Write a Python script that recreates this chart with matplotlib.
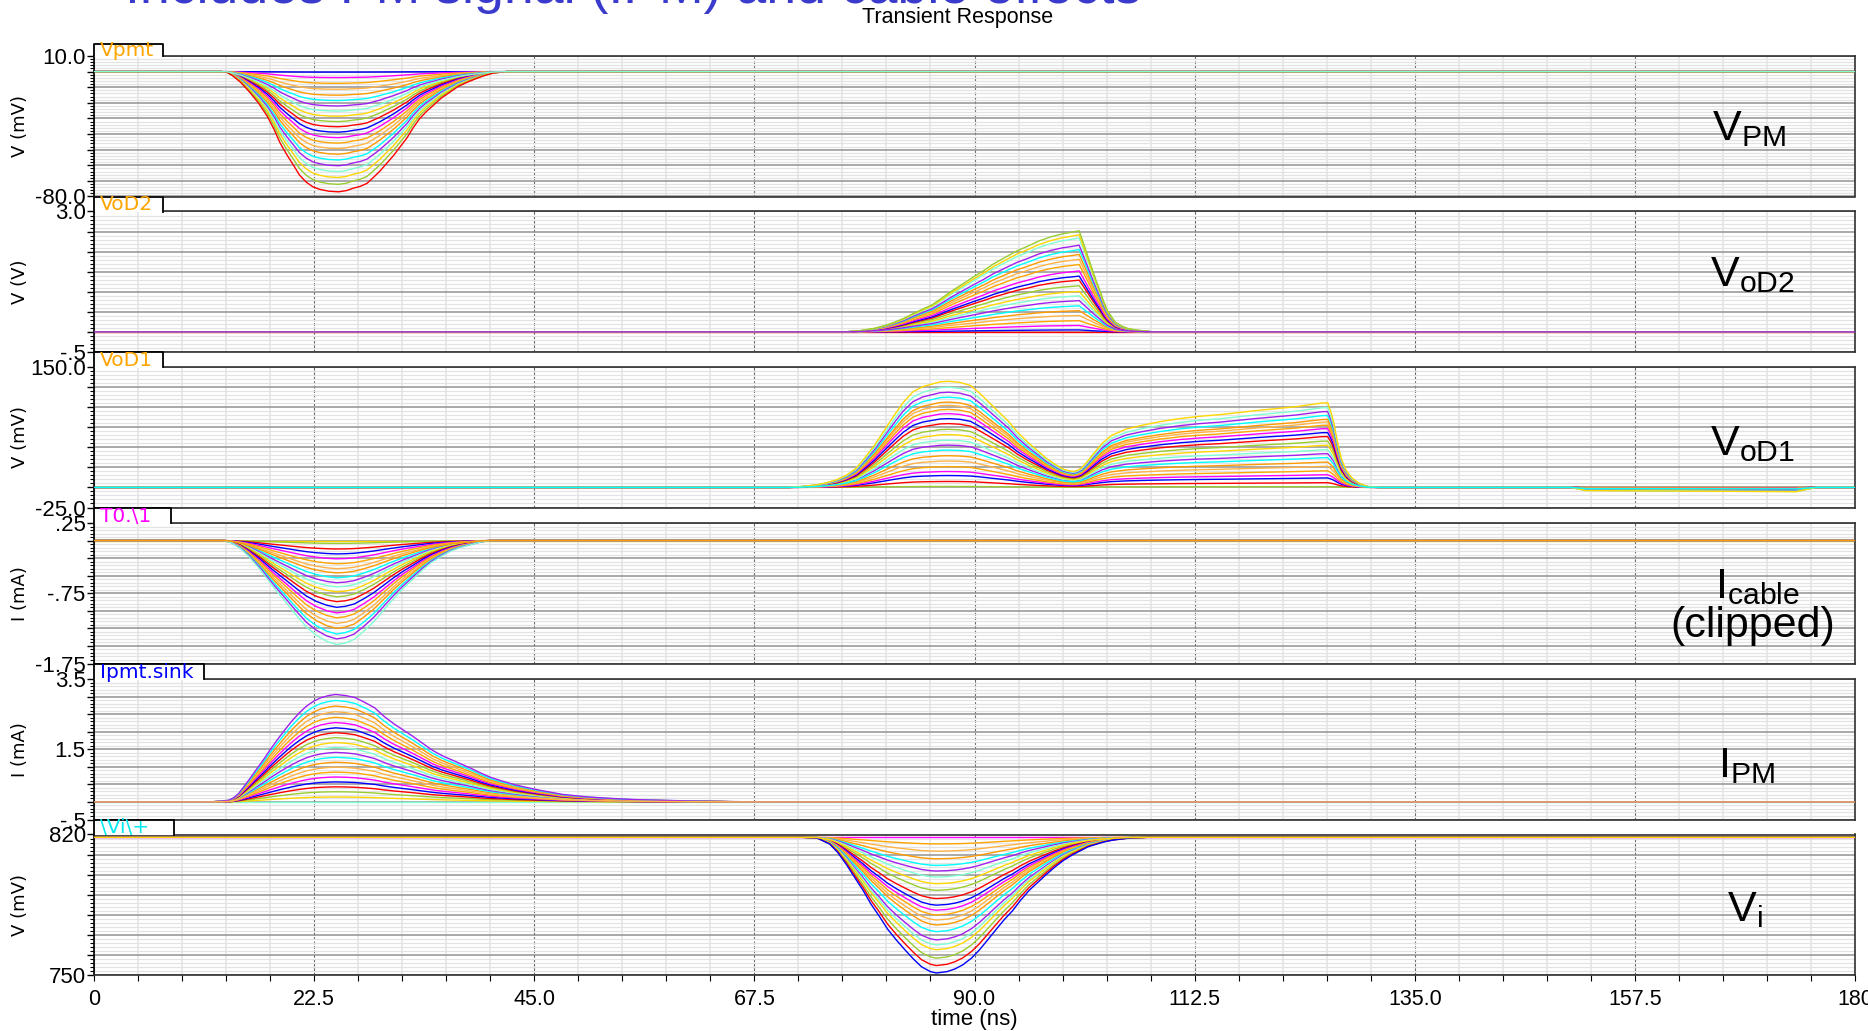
import numpy as np
import matplotlib
matplotlib.use('Agg')
import matplotlib.pyplot as plt
from matplotlib.ticker import FixedLocator, MultipleLocator, FuncFormatter
from matplotlib.patches import Rectangle
from matplotlib.lines import Line2D

plt.rcParams['mathtext.fontset'] = 'custom'
plt.rcParams['mathtext.rm'] = 'Liberation Sans'
plt.rcParams['mathtext.it'] = 'Liberation Sans:italic'
plt.rcParams['mathtext.bf'] = 'Liberation Sans:bold'

TICKFONT = ['Liberation Sans', 'DejaVu Sans']

# ---------------- data ----------------
palette = ['#ff0000', '#0000ff', '#ff00ff', '#ffa500', '#ffb347', '#ff9a00',
           '#00ffff', '#a020f0', '#7fffd4', '#ffd700', '#9acd32']

time_ticks = [0, 22.5, 45, 67.5, 90, 112.5, 135, 157.5, 180]
time_tick_labels = ['0', '22.5', '45.0', '67.5', '90.0', '112.5', '135.0', '157.5', '180']

# Vpmt (mV): pulse shape of the largest trace (fraction of peak) and per-trace peaks
vpmt_time = [0, 13.0, 13.6, 14.2, 15.0, 15.9, 16.8, 17.7, 18.4, 19.0, 19.7, 20.4, 21.0, 21.7,
             22.4, 23.1, 24.0, 25.0, 25.8, 26.5, 27.2, 27.9, 28.5, 29.2, 29.9, 30.6, 31.3,
             32.0, 32.6, 33.3, 34.0, 34.7, 35.5, 36.4, 37.2, 38.1, 39.0, 39.8, 40.8, 42.2, 180]
vpmt_shape = [0, 0, 0.006, 0.036, 0.09, 0.17, 0.26, 0.37, 0.48, 0.59, 0.69, 0.78, 0.86, 0.92,
              0.96, 0.98, 0.995, 1.0, 0.99, 0.97, 0.955, 0.93, 0.885, 0.83, 0.765, 0.70, 0.625,
              0.55, 0.47, 0.39, 0.33, 0.28, 0.22, 0.17, 0.125, 0.09, 0.06, 0.036, 0.012, 0, 0]
vpmt_peak = [-0.3, -3.8, -7.5, -11.3, -15.1, -18.5, -22.0, -25.3, -28.6, -32.0, -35.3,
             -38.8, -42.3, -45.8, -49.3, -52.9, -56.6, -60.3, -64.0, -67.8, -72.2, -77.0]
vpmt_base = 0.0

# VoD2 (V)
vod2_time = [0, 76.7, 78.3, 79.8, 80.8, 81.8, 82.8, 83.7, 84.7, 85.7, 86.6, 87.6, 88.8, 90.0,
             91.0, 91.9, 93.1, 94.3, 95.5, 96.6, 97.8, 99.0, 99.9, 100.7, 101.3, 101.7, 102.1,
             102.5, 102.9, 103.2, 103.6, 104.0, 104.4, 105.0, 105.6, 106.5, 107.5, 108.3, 180]
vod2_shape = [0, 0, 0.012, 0.036, 0.062, 0.095, 0.135, 0.18, 0.225, 0.27, 0.33, 0.40, 0.475,
              0.55, 0.61, 0.67, 0.735, 0.80, 0.85, 0.90, 0.94, 0.97, 0.985, 1.0, 0.83, 0.715,
              0.60, 0.49, 0.39, 0.30, 0.21, 0.15, 0.095, 0.06, 0.036, 0.018, 0.008, 0, 0]
vod2_peak = [0.0, 0.05, 0.16, 0.28, 0.41, 0.53, 0.65, 0.78, 0.90, 1.01, 1.15, 1.29, 1.39,
             1.52, 1.68, 1.81, 1.93, 2.05, 2.16, 2.34, 2.42, 2.52]
vod2_base = 0.0

# VoD1 (mV)
vod1_time = [0, 71.0, 72.5, 73.9, 74.9, 75.9, 76.9, 77.9, 78.8, 79.8, 80.8, 81.8, 82.7, 83.7,
             84.7, 85.7, 86.5, 87.4, 88.5, 89.6, 90.5, 91.5, 92.5, 93.5, 94.4, 95.4, 96.4,
             97.4, 98.2, 98.9, 99.5, 100.1, 100.5, 100.9, 101.5, 102.1, 103.0, 104.0, 105.5,
             107.1, 109.0, 111.1, 113.0, 115.0, 118.9, 122.8, 125.5, 126.1, 126.4, 126.7,
             127.1, 127.5, 128.0, 128.6, 129.4, 130.2, 131.3, 151.0, 152.5, 174.0, 176.0, 180]
vod1_shape = [0, 0, 0.01, 0.025, 0.045, 0.072, 0.115, 0.18, 0.28, 0.40, 0.54, 0.68, 0.80, 0.90,
              0.95, 0.975, 0.995, 1.0, 0.99, 0.96, 0.89, 0.80, 0.71, 0.62, 0.52, 0.43, 0.35,
              0.27, 0.22, 0.18, 0.16, 0.15, 0.16, 0.18, 0.24, 0.31, 0.41, 0.49, 0.55,
              0.585, 0.62, 0.65, 0.67, 0.685, 0.725, 0.76, 0.795, 0.797, 0.72, 0.62,
              0.43, 0.27, 0.16, 0.087, 0.035, 0.009, 0, 0, -0.03, -0.04, 0, 0]
vod1_peak = [1.2, 7.4, 14.8, 19.8, 25.9, 32.9, 39.5, 46.5, 52.7, 58.8, 65.8, 72.4, 79.5,
             85.7, 91.9, 97.2, 102.2, 106.3, 112.4, 118.6, 124.8, 132.2]
vod1_base = 0.0

# I cable (mA)
icab_time = [0, 13.3, 14.0, 14.9, 15.8, 17.0, 18.2, 19.5, 20.7, 21.7, 22.7, 23.8, 24.8, 25.7,
             26.6, 27.6, 28.6, 29.6, 30.6, 31.6, 32.6, 33.6, 34.5, 35.5, 36.5, 37.5, 38.5,
             39.5, 40.5, 180]
icab_shape = [0, 0, 0.02, 0.07, 0.15, 0.28, 0.43, 0.58, 0.72, 0.83, 0.91, 0.97, 1.0, 0.985,
              0.95, 0.87, 0.78, 0.67, 0.56, 0.46, 0.37, 0.28, 0.21, 0.15, 0.10, 0.065, 0.04,
              0.015, 0, 0]
icab_peak = [0.0, -0.04, -0.12, -0.19, -0.26, -0.33, -0.40, -0.46, -0.53, -0.60, -0.66,
             -0.73, -0.80, -0.87, -0.95, -1.03, -1.10, -1.18, -1.25, -1.33, -1.40, -1.48]
icab_base = 0.0

# I PM (mA)
ipm_time = [0, 11.5, 12.3, 13.0, 13.8, 14.3, 14.8, 15.3, 15.8, 16.5, 17.3, 18.0, 18.75, 19.5,
            20.2, 21.0, 21.7, 22.5, 23.2, 24.0, 24.7, 25.7, 26.7, 27.7, 28.7, 29.6, 30.6,
            31.6, 32.6, 33.6, 34.6, 35.6, 36.6, 37.6, 38.6, 39.5, 40.5, 41.7, 43.0, 44.2,
            45.5, 47.9, 50.4, 52.8, 55.3, 60.3, 65.2, 70.2, 180]
ipm_shape = [0, 0, 0.003, 0.008, 0.016, 0.04, 0.08, 0.14, 0.2, 0.29, 0.39, 0.485, 0.58, 0.67,
             0.75, 0.83, 0.89, 0.94, 0.97, 0.99, 1.0, 0.99, 0.97, 0.925, 0.875, 0.80, 0.73,
             0.67, 0.61, 0.545, 0.48, 0.43, 0.39, 0.35, 0.31, 0.27, 0.23, 0.195, 0.16, 0.135,
             0.11, 0.07, 0.047, 0.033, 0.022, 0.01, 0.003, 0, 0]
ipm_peak = [0.0, 0.14, 0.29, 0.43, 0.57, 0.71, 0.85, 0.99, 1.13, 1.27, 1.41, 1.55, 1.69,
            1.83, 1.97, 2.11, 2.26, 2.41, 2.57, 2.73, 2.89, 3.06]
ipm_base = 0.0

# Vi (mV)
vi_time = [0, 72.5, 73.9, 75.2, 76.0, 76.9, 77.7, 78.6, 79.4, 80.3, 81.1, 82.0, 82.9, 83.8,
           84.6, 85.5, 86.1, 87.2, 88.0, 88.8, 89.7, 90.5, 91.3, 92.2, 93.0, 93.9, 94.7,
           95.6, 96.5, 97.4, 98.2, 99.1, 100.0, 100.8, 101.6, 102.5, 103.3, 104.2, 105.9,
           107.6, 180]
vi_shape = [0, 0, 0.005, 0.05, 0.11, 0.2, 0.29, 0.39, 0.49, 0.585, 0.675, 0.756, 0.83, 0.9,
            0.955, 0.99, 1.0, 0.99, 0.97, 0.94, 0.89, 0.83, 0.76, 0.68, 0.61, 0.54, 0.465,
            0.39, 0.33, 0.27, 0.22, 0.17, 0.13, 0.10, 0.07, 0.05, 0.033, 0.02, 0.005, 0, 0]
vi_peak = [818.6, 815.3, 811.7, 807.9, 804.6, 801.8, 798.8, 795.5, 792.2, 788.1, 784.8,
           782.3, 779.9, 777.4, 774.9, 771.6, 767.5, 765.0, 762.6, 758.4, 754.7, 751.0]
vi_base = 818.6

panel_names = [r'$\mathrm{V_{PM}}$', r'$\mathrm{V_{oD2}}$', r'$\mathrm{V_{oD1}}$',
               r'$\mathrm{I_{cable}}$', r'$\mathrm{I_{PM}}$', r'$\mathrm{V_{i}}$']
tab_names = ['Vpmt', 'VoD2', 'VoD1', 'T0.\\1', 'Ipmt.sink', '\\Vi\\+']
tab_colors = ['#ffa500', '#ffa500', '#ffa500', '#ff00ff', '#0000ff', '#00e8f0']
y_units = ['V (mV)', 'V (V)', 'V (mV)', 'I (mA)', 'I (mA)', 'V (mV)']
y_limits = [(-80, 10), (-0.5, 3.0), (-25, 150), (-1.75, 0.25), (-0.5, 3.5), (750, 820)]
y_steps = [10, 0.5, 25, 0.25, 0.5, 10]
y_tick_labels = [{10: '10.0', -80: '-80.0'},
                 {3.0: '3.0', -0.5: '-.5'},
                 {150: '150.0', -25: '-25.0'},
                 {0.25: '.25', -0.75: '-.75', -1.75: '-1.75'},
                 {3.5: '3.5', 1.5: '1.5', -0.5: '-.5'},
                 {820: '820', 750: '750'}]

# ---------------- layout ----------------
W, H, DPI = 1868, 1031, 100
fig = plt.figure(figsize=(W / DPI, H / DPI), dpi=DPI)
fig.patch.set_facecolor('white')


def fx(px):
    return px / W


def fy(py):
    return 1 - py / H


AX_L, AX_R, AX_H = 94, 1855, 140.5
ax_tops = [56, 211.5, 367, 523, 679, 834.5]
tab_tops = [44, 196.5, 352, 508, 664, 819.5]
tab_rights = [163, 163, 163, 171, 204, 174]
color_offsets = [1, 0, 10, 9, 8, 2]
TOP_INDEX = 7

series = [(vpmt_time, vpmt_shape, vpmt_peak, vpmt_base),
          (vod2_time, vod2_shape, vod2_peak, vod2_base),
          (vod1_time, vod1_shape, vod1_peak, vod1_base),
          (icab_time, icab_shape, icab_peak, icab_base),
          (ipm_time, ipm_shape, ipm_peak, ipm_base),
          (vi_time, vi_shape, vi_peak, vi_base)]

name_pos = [(1712, 140), (1710, 286), (1710, 455), (1715, 598), (1718, 777), (1727, 921)]

SPINE_C = '#303030'
for k in range(6):
    top = ax_tops[k]
    ax = fig.add_axes([fx(AX_L), fy(top + AX_H), (AX_R - AX_L) / W, AX_H / H])
    ax.set_facecolor('white')
    ax.set_xlim(0, 180)
    ax.set_ylim(*y_limits[k])
    t, shp, peaks, base = series[k]
    t = np.asarray(t, float)
    shp = np.asarray(shp, float)
    for i, pk in enumerate(peaks):
        y = base + (pk - base) * shp
        ax.plot(t, y, color=palette[(i + color_offsets[k]) % len(palette)], lw=1.0,
                zorder=3 if i == TOP_INDEX else 2, solid_joinstyle='round')

    step = y_steps[k]
    ax.yaxis.set_major_locator(MultipleLocator(step))
    ax.yaxis.set_minor_locator(MultipleLocator(step / 5))
    labels = {round(v, 4): s for v, s in y_tick_labels[k].items()}
    ax.yaxis.set_major_formatter(FuncFormatter(lambda v, p, L=labels: L.get(round(v, 4), '')))
    ax.xaxis.set_major_locator(FixedLocator(time_ticks))
    ax.xaxis.set_minor_locator(MultipleLocator(4.5))
    ax.set_axisbelow(True)
    ax.grid(which='minor', axis='y', color='#e3e3e3', lw=0.9)
    ax.grid(which='major', axis='y', color='#929292', lw=1.1)
    ax.grid(which='minor', axis='x', color='#e3e3e3', lw=1.1)
    ax.grid(which='major', axis='x', color='#666666', lw=0.8, ls=(0, (2.5, 1.5)))
    ax.tick_params(axis='y', which='major', length=5, width=1, direction='out', pad=1,
                   colors='black', labelsize=16)
    ax.tick_params(axis='y', which='minor', length=3, width=0.8, direction='out')
    for lab in ax.get_yticklabels():
        lab.set_family(TICKFONT)
    if k < 5:
        ax.tick_params(axis='x', which='both', bottom=False, labelbottom=False)
    else:
        ax.tick_params(axis='x', which='both', length=4, width=0.8, direction='out', pad=6,
                       labelsize=15.5)
        ax.set_xticklabels(time_tick_labels)
        for lab in ax.get_xticklabels():
            lab.set_family(TICKFONT)
    for s in ax.spines.values():
        s.set_color(SPINE_C)
        s.set_linewidth(1.2)
    ax.spines['left'].set_color('black')

    # tab with trace name
    tt = tab_tops[k]
    tr = tab_rights[k]
    fig.patches.append(Rectangle((fx(AX_L), fy(top + 0.5)), (tr - AX_L) / W, (top + 0.5 - tt) / H,
                                 transform=fig.transFigure, facecolor='white', edgecolor='none',
                                 zorder=5))
    fig.lines.append(Line2D([fx(AX_L), fx(AX_L), fx(tr), fx(tr)], [fy(top), fy(tt), fy(tt), fy(top)],
                            transform=fig.transFigure, color='black', lw=1.3, zorder=6))
    fig.text(fx(AX_L + 6), fy((tt + top) / 2 + 0.5), tab_names[k], color=tab_colors[k],
             fontsize=14.5, family='DejaVu Sans', ha='left', va='center', zorder=7)

    # unit label
    fig.text(fx(20), fy(top + AX_H / 2), y_units[k], rotation=90, ha='center', va='center',
             fontsize=13, family='DejaVu Sans')

    # big right-hand name
    nx, ny = name_pos[k]
    fig.text(fx(nx), fy(ny), panel_names[k], fontsize=31, ha='left', va='baseline', zorder=8)

fig.text(fx(1753), fy(637), '(clipped)', fontsize=31, family='Liberation Sans', ha='center',
         va='baseline', zorder=8)

fig.text(fx(974.5), fy(1020), 'time (ns)', fontsize=16, family=TICKFONT, ha='center', va='center')
fig.text(fx(958), fy(18), 'Transient Response', fontsize=15.5, family=TICKFONT, ha='center',
         va='center')

title = fig.text(fx(125), fy(3.5), 'Includes PM signal (IPM) and cable effects', color='#3a3acc',
                 fontsize=36, family='Liberation Sans', ha='left', va='baseline')
fig.canvas.draw()
bb = title.get_window_extent()
title.set_fontsize(36 * 1017 / bb.width)

fig.savefig('out.png', dpi=DPI, facecolor='white')
